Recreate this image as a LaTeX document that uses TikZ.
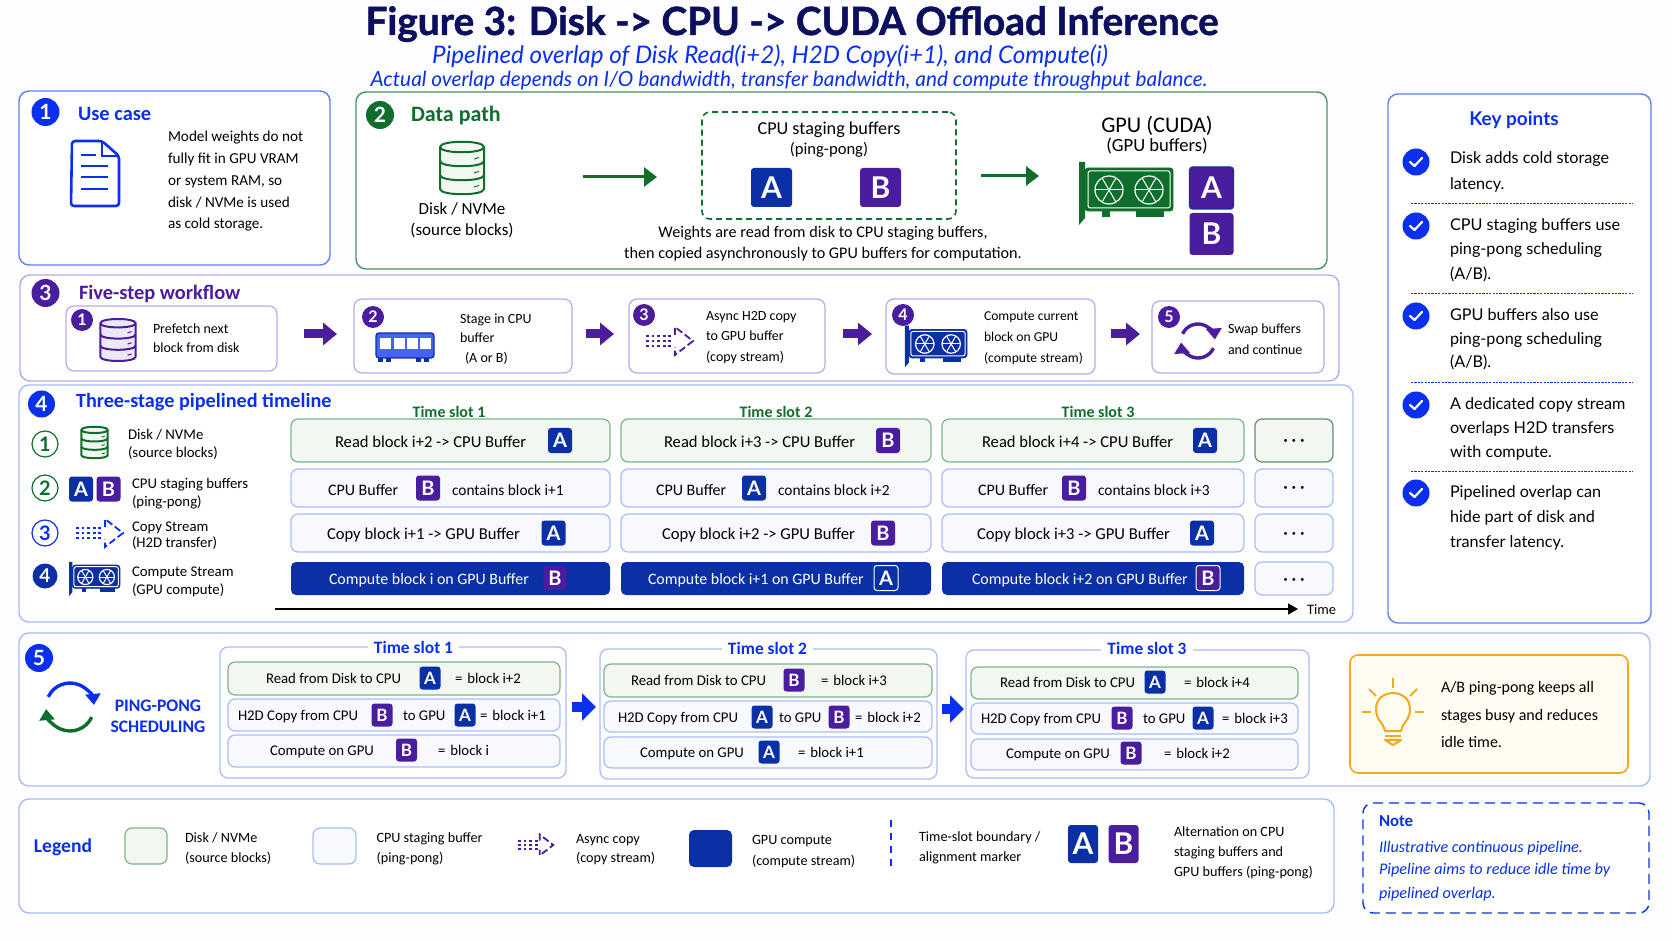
\documentclass[tikz,border=0pt]{standalone}
\usepackage{fontspec}
\setmainfont{Carlito}
\newfontfamily\latofont{Lato}
\newfontfamily\titlefont[BoldFeatures={FakeBold=1.3}]{Lato}
\usetikzlibrary{arrows.meta}
\definecolor{pagebg}{HTML}{FDFDFF}
\definecolor{titlenavy}{HTML}{0C0F5E}
\definecolor{mainblue}{HTML}{0A2FEF}
\definecolor{edgeblue}{HTML}{5F80F5}
\definecolor{lightblue}{HTML}{A9BCF8}
\definecolor{rowblue}{HTML}{F7F9FF}
\definecolor{tileA}{HTML}{0B30A5}
\definecolor{tileB}{HTML}{4A1D9E}
\definecolor{maingreen}{HTML}{0F6E2C}
\definecolor{rowgreen}{HTML}{F2F8F1}
\definecolor{edgegreen}{HTML}{7DB38A}
\definecolor{edgepurple}{HTML}{B9A7EE}
\definecolor{lampline}{HTML}{F5A818}
\definecolor{lampfill}{HTML}{FFFCF2}
\newcommand{\fsz}[1]{\fontsize{#1}{#1}\selectfont}
\tikzset{
  lab/.style={inner sep=0pt,outer sep=0pt,text height=.7em,text depth=.2em},
  body/.style={lab,anchor=west,font=\fsz{7.6}},
  steptxt/.style={lab,anchor=west,font=\fsz{7}},
  rowtxt/.style={lab,anchor=west,font=\fsz{8.3}},
  slottxt/.style={lab,anchor=west,font=\fsz{7.4}},
  legtxt/.style={lab,anchor=west,font=\fsz{7.1}},
  keytxt/.style={lab,anchor=west,font=\latofont\fsz{8.1}},
  head/.style={lab,anchor=west,font=\bfseries\fsz{10.2}},
  area/.style={inner sep=0pt,outer sep=0pt,rounded corners=#1},
  area/.default=5pt,
  panel/.style={area,draw=#1,fill=white,line width=.7pt},
  inbox/.style={area=4pt,draw=#1,fill=white,line width=.6pt},
  greenrow/.style={area=3.5pt,draw=edgegreen,fill=rowgreen,line width=.6pt},
  bluerow/.style={area=3.5pt,draw=lightblue,fill=rowblue,line width=.6pt},
  computerow/.style={area=2.5pt,fill=tileA},
  buf/.style={rounded corners=1.5pt,inner sep=0pt,fill=tile#1,text=white,font=\latofont\bfseries},
  bufsm/.style={minimum width=10.5pt,minimum height=11.5pt,font=\latofont\bfseries\fsz{8.5}},
  bufmd/.style={minimum width=12pt,minimum height=12.5pt,font=\latofont\bfseries\fsz{10}},
  buflg/.style={minimum width=20.5pt,minimum height=19.5pt,font=\latofont\bfseries\fsz{15}},
  badge/.style={circle,fill=#1,text=white,inner sep=0pt,minimum size=14pt,font=\latofont\bfseries\fsz{10.5}},
  subbadge/.style={badge=#1,minimum size=11pt,font=\latofont\bfseries\fsz{8}},
  ringbadge/.style={circle,draw=#1,text=#1,fill=white,line width=.6pt,inner sep=0pt,minimum size=13pt,font=\latofont\bfseries\fsz{10}},
  flow/.style={-{Triangle[length=6.5pt,width=9.5pt]},line width=1.5pt,draw=maingreen},
  stepflow/.style={-{Triangle[length=7pt,width=11pt]},line width=4.5pt,draw=tileB},
  slotflow/.style={-{Triangle[length=7pt,width=13.5pt]},line width=5pt,draw=mainblue},
  slothead/.style={lab,fill=white,inner xsep=3pt,text=mainblue,font=\bfseries\fsz{8.7}},
  colhead/.style={lab,text=maingreen,font=\bfseries\fsz{8}},
  dots/.style={lab,font=\fsz{10}},
  sepline/.style={draw=mainblue,line width=.45pt,dash pattern=on 1.1pt off .6pt}
}
\newcommand{\areabox}[6]{\node[#1,minimum width={(#5-#3)*0.5pt},minimum height={(#6-#4)*0.5pt}] (#2) at ({(#3+#5)/2},{(#4+#6)/2}) {};}
% stacked disk, #1 x #2 y #3 scale #4 line #5 fill
\newcommand{\diskicon}[5]{%
  \begin{scope}[shift={(#1,#2)},scale=#3,draw=#4,line width=1pt]
    \filldraw[fill=#5] (-22,-21) -- (-22,21) .. controls (-22,28) and (22,28) .. (22,21) -- (22,-21) .. controls (22,-28) and (-22,-28) .. (-22,-21) -- cycle;
    \draw (-22,-21) .. controls (-22,-14) and (22,-14) .. (22,-21);
    \draw (-22,-7) .. controls (-22,0) and (22,0) .. (22,-7);
    \draw (-22,7) .. controls (-22,14) and (22,14) .. (22,7);
    \foreach \dy in {-9,5,19}
      \draw[line width=.5pt] (12,\dy) -- (17,{\dy-1.5});
  \end{scope}}
% graphics card, #1 x #2 y #3 scale #4 body #5 line
\newcommand{\gpuicon}[5]{%
  \begin{scope}[shift={(#1,#2)},scale=#3]
    \fill[#4] (-47,-28) -- (-41,-28) -- (-41,28) -- (-47,35) -- cycle;
    \fill[#4] (-24,21) rectangle (-16,27);
    \fill[#4] (10,21) rectangle (38,27);
    \filldraw[fill=#4,draw=#4,rounded corners=1.5pt] (-41,-22) rectangle (47,21);
    \draw[#5,line width=.5pt,rounded corners=1pt] (-38,-19) rectangle (44,18);
    \foreach \fx in {-17,23} {
      \draw[#5,line width=.6pt] (\fx,0) circle (14);
      \foreach \ang in {0,60,...,300}
        \draw[#5,line width=.5pt] (\fx,0) -- ++(\ang:14);
    }
  \end{scope}}
% dotted arrow, #1 left x #2 y #3 scale #4 colour
\newcommand{\copyicon}[4]{%
  \begin{scope}[shift={(#1,#2)},scale=#3,draw=#4]
    \foreach \dy in {-5,0,5}
      \draw[line width=1.1pt,dash pattern=on 1.4pt off 1.4pt] (0,\dy) -- (27,\dy);
    \draw[line width=.9pt,dash pattern=on 3.5pt off 1.6pt] (29,-6) -- (29,-14) -- (47,0) -- (29,14) -- (29,6);
  \end{scope}}
% swap arrows, #1 x #2 y #3 radius #4 upper #5 lower
\newcommand{\swapicon}[5]{%
  \draw[#4,line width=1.7pt,-{Triangle[length=5.5pt,width=7.5pt]}] ({#1+#3*cos(155)},{#2-#3*sin(155)}) arc (-155:-5:#3);
  \draw[#5,line width=1.7pt,-{Triangle[length=5.5pt,width=7.5pt]}] ({#1+#3*cos(25)},{#2+#3*sin(25)}) arc (25:175:#3);}
\begin{document}
\begin{tikzpicture}[x=0.5pt,y=-0.5pt]
  \useasboundingbox (0,0) rectangle (1672,941);
  \fill[pagebg] (0,0) rectangle (1672,941);

  % title
  \node[lab,text=titlenavy,font=\titlefont\bfseries\fsz{19.4}] (title) at (792,30) {Figure 3: Disk -> CPU -> CUDA Offload Inference};
  \node[lab,text=mainblue,font=\latofont\itshape\fsz{12.1}] (subtitle) at (770,59) {Pipelined overlap of Disk Read(i+2), H2D Copy(i+1), and Compute(i)};
  \node[lab,text=mainblue,font=\latofont\itshape\fsz{10.4}] (subnote) at (789,82) {Actual overlap depends on I/O bandwidth, transfer bandwidth, and compute throughput balance.};

  % panels
  \areabox{panel=edgeblue}{usecase}{19}{91}{330}{265}
  \areabox{panel=maingreen!75}{datapath}{356}{92}{1327}{269}
  \areabox{panel=edgeblue}{keypts}{1388}{94}{1651}{623}
  \areabox{panel=edgepurple}{workflow}{20}{275}{1339}{381}
  \areabox{panel=lightblue}{timeline}{19}{385}{1353}{622}
  \areabox{panel=lightblue}{pingpong}{19}{633}{1650}{786}
  \areabox{panel=lightblue}{legend}{19}{799}{1334}{913}
  \areabox{panel=mainblue,dash pattern=on 5pt off 3pt}{note}{1363}{803}{1649}{913}

  % 1 use case
  \node[badge=mainblue] (b1) at (45.5,112) {1};
  \node[head,text=mainblue] (usehead) at (78,116) {Use case};
  \draw[mainblue,line width=1.3pt,rounded corners=1.5pt,line join=round] (72,141) -- (102,141) -- (119,156) -- (119,206) -- (71,206) -- cycle;
  \draw[mainblue,line width=.9pt] (102,141) -- (102,156) -- (119,156);
  \draw[mainblue,line width=1pt] (81,155) -- (96,155);
  \foreach \ly in {166,177,189}
    \draw[mainblue,line width=1pt] (81,\ly) -- (108,\ly);
  \foreach \t/\ly [count=\i] in {Model weights do not/137,fully fit in GPU VRAM/159,{or system RAM, so}/181,{disk / NVMe is used}/203,as cold storage./224}
    \node[body] (usetxt\i) at (168,\ly) {\t};

  % 2 data path
  \node[badge=maingreen] (b2) at (380,115) {2};
  \node[head,text=maingreen,font=\bfseries\fsz{11}] (datahead) at (411,117) {Data path};
  \diskicon{462}{168}{1}{maingreen}{rowgreen}
  \node[lab,font=\fsz{8.5}] (disklab1) at (462,210) {Disk / NVMe};
  \node[lab,font=\fsz{8.5}] (disklab2) at (462,231) {(source blocks)};
  \areabox{area=4pt,draw=maingreen,line width=.8pt,dash pattern=on 3pt off 2pt}{staging}{702}{112}{956}{219}
  \node[lab,font=\fsz{9.1}] (stagelab1) at (829,130) {CPU staging buffers};
  \node[lab,font=\fsz{8.3}] (stagelab2) at (829,150) {(ping-pong)};
  \node[buf=A,buflg] (stageA) at (771.5,187.5) {A};
  \node[buf=B,buflg] (stageB) at (880.5,187.5) {B};
  \coordinate (diskout) at (583,177);
  \coordinate (stagein) at (657,177);
  \coordinate (stageout) at (981,176);
  \coordinate (gpuin) at (1039,176);
  \draw[flow] (diskout) -- (stagein);
  \draw[flow] (stageout) -- (gpuin);
  \node[lab,font=\fsz{11.2}] (gpulab1) at (1157,128) {GPU (CUDA)};
  \node[lab,font=\fsz{9.3}] (gpulab2) at (1157,147) {(GPU buffers)};
  \gpuicon{1126}{190}{1}{maingreen}{white}
  \node[buf=B,buflg,draw=tileA,line width=.6pt,minimum width=22pt,minimum height=21pt] (gpuA) at (1211.5,188) {A};
  \node[buf=B,buflg,minimum width=22pt,minimum height=21pt] (gpuB) at (1211.5,234) {B};
  \node[lab,font=\fsz{8.1}] (capt1) at (823,233) {Weights are read from disk to CPU staging buffers,};
  \node[lab,font=\fsz{8.1}] (capt2) at (823,254) {then copied asynchronously to GPU buffers for computation.};

  % 3 workflow
  \node[badge=tileB] (b3) at (45.5,293) {3};
  \node[head,text=tileB] (flowhead) at (79,295) {Five-step workflow};
  \areabox{inbox=edgepurple}{step1}{66}{306}{277}{371}
  \areabox{inbox=edgepurple}{step2}{354}{299}{572}{373}
  \areabox{inbox=edgepurple}{step3}{629}{299}{825}{373}
  \areabox{inbox=edgepurple}{step4}{886}{299}{1095}{374}
  \areabox{inbox=edgepurple}{step5}{1152}{301}{1324}{373}
  \foreach \n/\bx/\by in {1/82/320,2/373/317,3/644/315,4/903/315,5/1169/317}
    \node[subbadge=tileB] (sb\n) at (\bx,\by) {\n};
  \foreach \a/\b/\sa/\sb in {1/2/13.5/8.5,2/3/7/7.5,3/4/9/7,4/5/8/6}
    \draw[stepflow,shorten <=\sa pt,shorten >=\sb pt] ([yshift=1pt]step\a.east |- step2.west) -- ([yshift=1pt]step\b.west |- step2.west);
  \diskicon{118}{340}{.8}{tileB}{tileB!10}
  \node[steptxt] (s1a) at (153,329) {Prefetch next};
  \node[steptxt] (s1b) at (153,348) {block from disk};
  % ram stick
  \filldraw[fill=mainblue!75,draw=tileA,line width=.7pt,rounded corners=1.5pt] (376,333) rectangle (434,358);
  \foreach \rx in {380,393.5,407,420}
    \fill[white] (\rx,338) rectangle ++(11,11);
  \foreach \rx in {378,386,416,424}
    \fill[tileA] (\rx,358) rectangle ++(5,4);
  \node[steptxt] (s2a) at (460,319) {Stage in CPU};
  \node[steptxt] (s2b) at (460,338) {buffer};
  \node[steptxt] (s2c) at (465,358) {(A or B)};
  \copyicon{646}{341}{1}{tileB}
  \node[steptxt] (s3a) at (706,316) {Async H2D copy};
  \node[steptxt] (s3b) at (706,336) {to GPU buffer};
  \node[steptxt] (s3c) at (706,357) {(copy stream)};
  \gpuicon{936}{344}{.66}{tileA}{white}
  \node[steptxt,font=\fsz{6.8}] (s4a) at (984,316) {Compute current};
  \node[steptxt,font=\fsz{6.8}] (s4b) at (984,337) {block on GPU};
  \node[steptxt,font=\fsz{6.8}] (s4c) at (984,358) {(compute stream)};
  \swapicon{1198}{341}{17}{tileB}{tileB}
  \node[steptxt] (s5a) at (1228,329) {Swap buffers};
  \node[steptxt] (s5b) at (1228,350) {and continue};

  % 4 timeline
  \node[badge=mainblue,minimum size=13.5pt] (b4) at (41.5,404) {4};
  \node[head,text=mainblue,font=\bfseries\fsz{10.1}] (timehead) at (76,403) {Three-stage pipelined timeline};
  \foreach \c/\cx in {1/449,2/776,3/1098}
    \node[colhead] (col\c) at (\cx,412) {Time slot \c};
  \node[ringbadge=maingreen] (leg1) at (45,444) {1};
  \node[ringbadge=maingreen] (leg2) at (45,488) {2};
  \node[ringbadge=mainblue] (leg3) at (45,533) {3};
  \node[badge=tileA,minimum size=12.5pt,font=\latofont\bfseries\fsz{9.5}] (leg4) at (45,576) {4};
  \diskicon{94.5}{442.5}{.6}{maingreen}{rowgreen}
  \node[buf=A,bufmd] (legA) at (81,489) {A};
  \node[buf=B,bufmd] (legB) at (108.5,489) {B};
  \copyicon{76}{533}{1}{mainblue}
  \gpuicon{94.5}{577}{.54}{tileA}{white}
  \foreach \t/\lx/\ly [count=\i] in {{Disk / NVMe}/128/434,{(source blocks)}/128/453,CPU staging buffers/132/483,{(ping-pong)}/132/501,Copy Stream/132/526,{(H2D transfer)}/132/542,Compute Stream/132/571,{(GPU compute)}/132/589}
    \node[lab,anchor=west,font=\fsz{7.4}] (legtxt\i) at (\lx,\ly) {\t};

  % time slot rows
  \foreach \c/\xa/\xb/\tx/\n/\bx/\bid in {1/291/610/335/2/560/A,2/621/931/664/3/888/B,3/942/1244/982/4/1205/A} {
    \areabox{greenrow}{read\c}{\xa}{419}{\xb}{462}
    \node[rowtxt] (readt\c) at (\tx,442) {Read block i+\n{} -> CPU Buffer};
    \node[buf=\bid,bufmd] (readb\c) at (\bx,440.5) {\bid};
  }
  \foreach \c/\xa/\xb/\tx/\bx/\cx/\n/\bid in {1/291/610/328/428/452/1/B,2/621/931/656/754/778/2/A,3/942/1244/978/1074/1098/3/B} {
    \areabox{bluerow}{held\c}{\xa}{469}{\xb}{507}
    \node[rowtxt,font=\fsz{8}] (heldt\c) at (\tx,490) {CPU Buffer};
    \node[buf=\bid,bufmd] (heldb\c) at (\bx,488) {\bid};
    \node[rowtxt,font=\fsz{7.7}] (heldc\c) at (\cx,490) {contains block i+\n};
  }
  \foreach \c/\xa/\xb/\tx/\n/\bx/\bid in {1/291/610/327/1/553.5/A,2/621/931/662/2/883/B,3/942/1244/977/3/1202/A} {
    \areabox{bluerow}{copy\c}{\xa}{514}{\xb}{552}
    \node[rowtxt] (copyt\c) at (\tx,534) {Copy block i+\n{} -> GPU Buffer};
    \node[buf=\bid,bufmd] (copyb\c) at (\bx,533) {\bid};
  }
  \foreach \c/\xa/\xb/\tx/\n/\bx/\bid/\ed in {1/291/610/329/{}/555/B/tileA,2/621/931/648/+1/886/A/white,3/942/1244/972/+2/1208/B/white} {
    \areabox{computerow}{comp\c}{\xa}{562}{\xb}{595}
    \node[rowtxt,text=white,font=\fsz{7.95}] (compt\c) at (\tx,579) {Compute block i\n{} on GPU Buffer};
    \node[buf=\bid,bufmd,draw=\ed,line width=.5pt] (compb\c) at (\bx,578) {\bid};
  }
  \areabox{area=3.5pt,draw=edgegreen!80!black,fill=rowgreen,line width=.6pt}{more1}{1255}{419}{1333}{462}
  \areabox{bluerow}{more2}{1255}{469}{1333}{507}
  \areabox{bluerow}{more3}{1255}{514}{1333}{552}
  \areabox{bluerow}{more4}{1255}{562}{1333}{595}
  \foreach \m/\my in {1/441,2/489,3/534,4/580}
    \node[dots] (dots\m) at (1294,\my) {·\,·\,·};
  \coordinate (axisstart) at (275,609);
  \node[lab,anchor=west,font=\fsz{7.2}] (timelab) at (1307,609) {Time};
  \draw[-{Triangle[length=5pt,width=5.5pt]},line width=.7pt,shorten >=4.5pt] (axisstart) -- (timelab.west);

  % 5 ping-pong
  \node[badge=mainblue] (b5) at (39,658) {5};
  \swapicon{70}{707}{24}{mainblue}{maingreen}
  \node[lab,text=mainblue,font=\bfseries\fsz{8.8}] (pp1) at (158,706) {PING-PONG};
  \node[lab,text=mainblue,font=\bfseries\fsz{8.8}] (pp2) at (158,727) {SCHEDULING};
  \areabox{inbox=lightblue}{slot1}{220}{647}{566}{778}
  \areabox{inbox=lightblue}{slot2}{600}{649}{937}{779}
  \areabox{inbox=lightblue}{slot3}{966}{650}{1309}{778}
  \node[slothead] (slot1lab) at (413.5,648) {Time slot 1};
  \node[slothead] (slot2lab) at (767.5,649) {Time slot 2};
  \node[slothead] (slot3lab) at (1147,649) {Time slot 3};
  \draw[slotflow,shorten <=3pt,shorten >=2pt] ([yshift=2.75pt]slot1.east) -- ([yshift=2.75pt]slot1.east -| slot2.west);
  \draw[slotflow,shorten <=2.5pt,shorten >=1pt] ([yshift=2.5pt]slot2.east) -- ([yshift=2.5pt]slot2.east -| slot3.west);
  % rows per slot
  \foreach \s/\xa/\xb/\ya/\yb/\yc/\yd/\ye/\yf in {1/228/560/662/695/699/731/735/767,2/604/932/664/697/701/732/737/768,3/971/1298/667/699/703/734/739/770} {
    \areabox{greenrow}{slotr\s}{\xa}{\ya}{\xb}{\yb}
    \areabox{bluerow}{slotc\s}{\xa}{\yc}{\xb}{\yd}
    \areabox{bluerow}{slotg\s}{\xa}{\ye}{\xb}{\yf}
  }
  \foreach \s/\tx/\bx/\ex/\ly/\n/\bid in {1/266/430/455/678/+2/A,2/631/794/821/680/+3/B,3/1000/1155/1184/682/+4/A} {
    \node[slottxt] (rt\s) at (\tx,\ly) {Read from Disk to CPU};
    \node[buf=\bid,bufsm] (rb\s) at (\bx,\ly) {\bid};
    \node[slottxt] (re\s) at (\ex,\ly) {=\,\,block i\n};
  }
  \foreach \s/\tx/\bx/\bid/\gx/\cx/\cid/\ex/\ly/\n in {1/238/382/B/403/465/A/480/715/+1,2/618/762/A/779/839/B/855/717/+2,3/981/1122/B/1143/1203/A/1222/718/+3} {
    \node[slottxt] (ct\s) at (\tx,\ly) {H2D Copy from CPU};
    \node[buf=\bid,bufsm] (cb\s) at (\bx,\ly) {\bid};
    \node[slottxt] (cg\s) at (\gx,\ly) {to GPU};
    \node[buf=\cid,bufsm] (cc\s) at (\cx,\ly) {\cid};
    \node[slottxt] (ce\s) at (\ex,\ly) {=\,\,block i\n};
  }
  \foreach \s/\tx/\bx/\ex/\ly/\n/\bid in {1/270/406.5/438/750/{}/B,2/640/769/798/752/+1/A,3/1006/1131/1164/753/+2/B} {
    \node[slottxt] (gt\s) at (\tx,\ly) {Compute on GPU};
    \node[buf=\bid,bufsm] (gb\s) at (\bx,\ly) {\bid};
    \node[slottxt] (ge\s) at (\ex,\ly) {=\,\,block i\n};
  }
  % lamp
  \areabox{area=4pt,draw=lampline,fill=lampfill,line width=.8pt}{tipbox}{1350}{655}{1628}{773}
  \draw[lampline,line width=1pt,line join=round] (1385,731) .. controls (1383,722) and (1376,720) .. (1376,709) .. controls (1376,698) and (1385,693) .. (1393,693) .. controls (1401,693) and (1410,698) .. (1410,709) .. controls (1410,720) and (1403,722) .. (1401,731) -- cycle;
  \draw[lampline,line width=1pt] (1385,736) -- (1401,736);
  \draw[lampline,line width=1pt,line join=round] (1385,740) -- (1401,740) -- (1393,745) -- cycle;
  \foreach \rx/\ry/\sx/\sy in {1393/678/1393/688,1369/689/1376/696,1417/689/1410/696,1362/712/1371/712,1415/712/1424/712}
    \draw[lampline,line width=1pt] (\rx,\ry) -- (\sx,\sy);
  \foreach \t/\ly [count=\i] in {{A/B ping-pong keeps all}/687,stages busy and reduces/715,idle time./742}
    \node[lab,anchor=west,font=\fsz{8}] (tiptxt\i) at (1441,\ly) {\t};

  % key points
  \node[lab,text=mainblue,font=\latofont\bfseries\fsz{9.5}] (keyhead) at (1514,121) {Key points};
  \foreach \ky [count=\i] in {162,226,316,405,493} {
    \node[circle,fill=mainblue,minimum size=13.5pt,inner sep=0pt] (chk\i) at (1416,\ky) {};
    \draw[white,line width=1.1pt,line cap=round,line join=round] (1410,\ky) -- (1414.5,{\ky+4}) -- (1422,{\ky-4});
  }
  \foreach \t/\ly [count=\i] in {Disk adds cold storage/159,latency./185,CPU staging buffers use/226,ping-pong scheduling/250,{(A/B).}/275,GPU buffers also use/316,ping-pong scheduling/340,{(A/B).}/363,A dedicated copy stream/404,overlaps H2D transfers/429,with compute./453,Pipelined overlap can/492,hide part of disk and/517,transfer latency./542}
    \node[keytxt] (keyline\i) at (1450,\ly) {\t};
  \foreach \sy in {203,293,382,471}
    \draw[sepline] (1411,\sy) -- (1633,\sy);

  % legend
  \node[lab,text=mainblue,font=\bfseries\fsz{9.8}] (leghead) at (63,847) {Legend};
  \areabox{greenrow}{sw1}{125}{828}{167}{864}
  \areabox{bluerow}{sw2}{313}{828}{356}{864}
  \areabox{computerow}{sw3}{689}{830}{732}{867}
  \copyicon{518}{845}{.75}{tileB}
  \draw[mainblue,line width=1.1pt,dash pattern=on 3.5pt off 3pt] (891,820) -- (891,869);
  \node[buf=A,buflg,minimum width=15pt,minimum height=19pt] (swA) at (1083,844) {A};
  \node[buf=B,buflg,minimum width=15pt,minimum height=19pt] (swB) at (1123.5,844) {B};
  \foreach \t/\lx/\ly [count=\i] in {{Disk / NVMe}/185/837,{(source blocks)}/185/857,CPU staging buffer/376.5/837,{(ping-pong)}/376.5/857,Async copy/576/838,{(copy stream)}/576/857,GPU compute/752/839,{(compute stream)}/752/860,{Time-slot boundary /}/919/836,alignment marker/919/856,Alternation on CPU/1174/831,staging buffers and/1174/851,{GPU buffers (ping-pong)}/1174/871}
    \node[legtxt] (legline\i) at (\lx,\ly) {\t};

  % note
  \node[lab,anchor=west,text=mainblue,font=\bfseries\fsz{8.4}] (notehead) at (1379,821) {Note};
  \foreach \t/\ly [count=\i] in {Illustrative continuous pipeline./847,Pipeline aims to reduce idle time by/869,pipelined overlap./893}
    \node[lab,anchor=west,text=mainblue,font=\itshape\fsz{8.1}] (notetxt\i) at (1379,\ly) {\t};
\end{tikzpicture}
\end{document}
